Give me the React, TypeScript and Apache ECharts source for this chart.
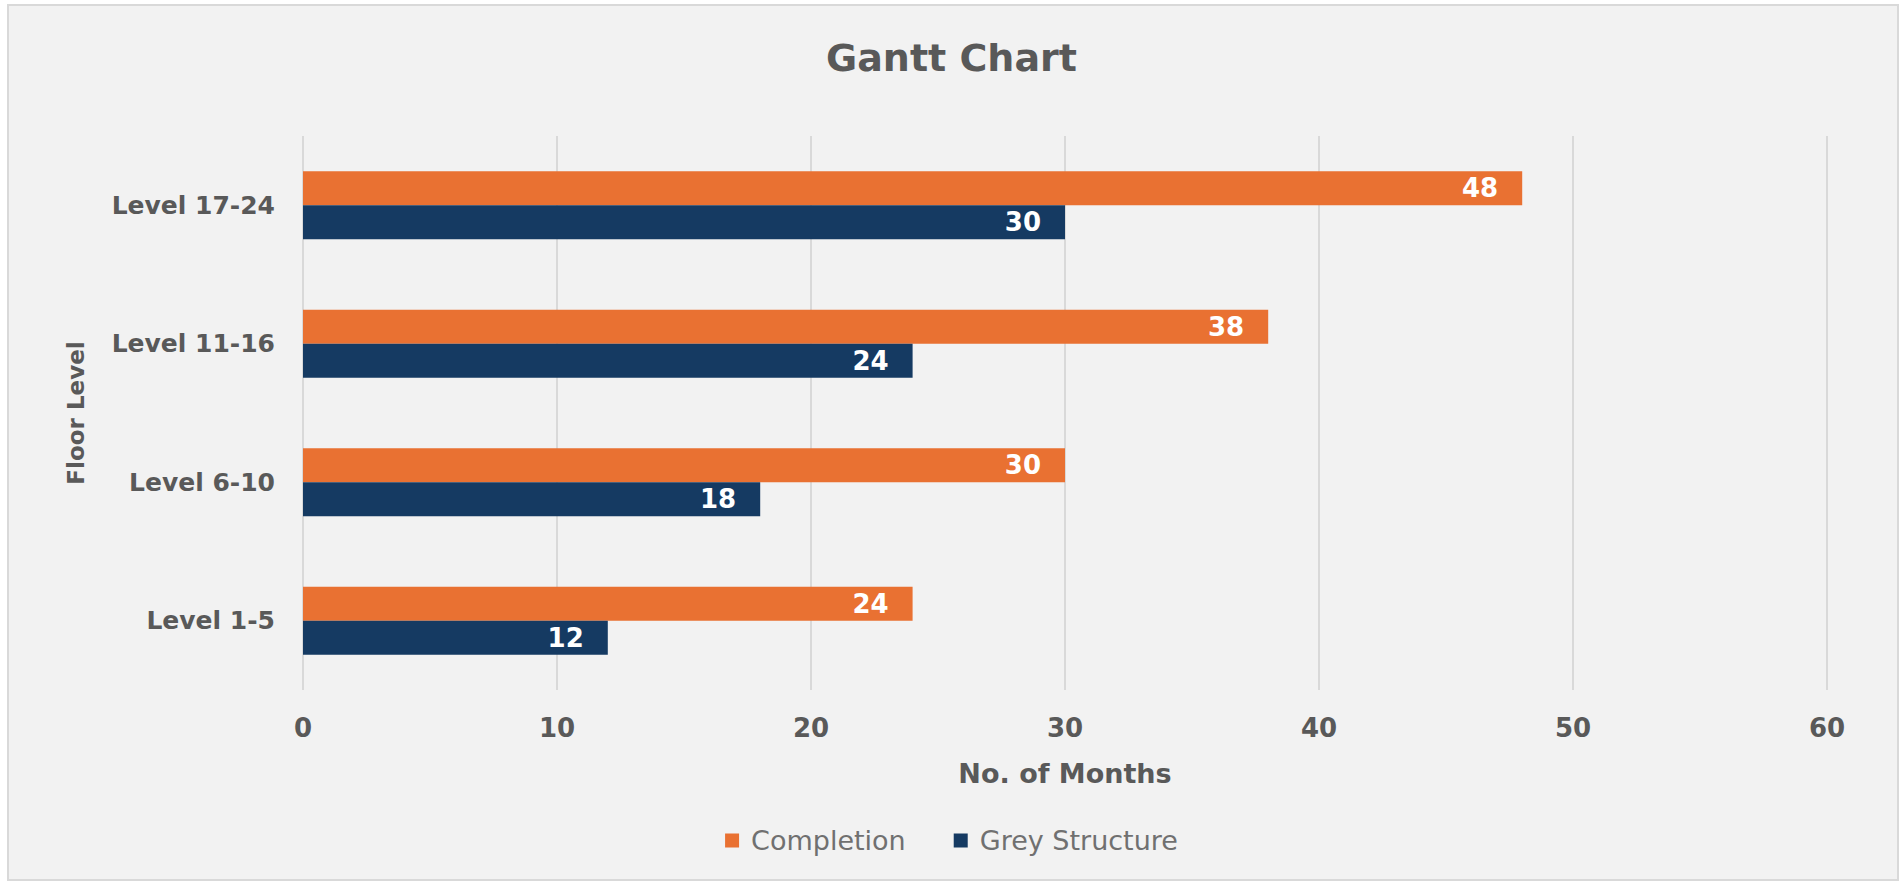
import React, { useEffect, useRef } from "react";
import * as echarts from "echarts";

const categories = ["Level 1-5", "Level 6-10", "Level 11-16", "Level 17-24"];
const completion = [24, 30, 38, 48];
const greyStructure = [12, 18, 24, 30];
const xTicks = { min: 0, max: 60, interval: 10 };

const FONT = "DejaVu Sans";

export default function App() {
  const ref = useRef<HTMLDivElement>(null);
  useEffect(() => {
    if (!ref.current) return;
    const chart = echarts.init(ref.current, null, { renderer: "svg" });
    const labelStyle = {
      show: true,
      position: "insideRight",
      distance: 24,
      color: "#ffffff",
      fontFamily: FONT,
      fontSize: 26,
      fontWeight: "bold",
    };
    chart.setOption({
      animation: false,
      backgroundColor: "#ffffff",
      textStyle: { fontFamily: FONT },
      graphic: [
        {
          type: "rect",
          z: -10,
          silent: true,
          shape: { x: 8, y: 5, width: 1890, height: 875 },
          style: { fill: "#f2f2f2", stroke: "#d9d9d9", lineWidth: 2 },
        },
      ],
      title: {
        text: "Gantt Chart",
        left: "center",
        top: 34,
        textStyle: { fontFamily: FONT, fontSize: 38, fontWeight: "bold", color: "#595959" },
      },
      legend: {
        bottom: 26,
        left: "center",
        icon: "rect",
        itemWidth: 14,
        itemHeight: 14,
        itemGap: 48,
        textStyle: { fontFamily: FONT, fontSize: 27, color: "#707070", padding: [0, 0, 0, 7] },
        data: ["Completion", "Grey Structure"],
      },
      grid: { left: 303, right: 76, top: 136, bottom: 195, containLabel: false },
      xAxis: {
        type: "value",
        min: xTicks.min,
        max: xTicks.max,
        interval: xTicks.interval,
        name: "No. of Months",
        nameLocation: "middle",
        nameGap: 70,
        nameTextStyle: { fontFamily: FONT, fontSize: 27, fontWeight: "bold", color: "#595959" },
        axisLine: { show: false },
        axisTick: { show: false },
        axisLabel: { fontFamily: FONT, fontSize: 26, fontWeight: "bold", color: "#595959", margin: 25 },
        splitLine: { show: true, lineStyle: { color: "#d9d9d9", width: 2 } },
      },
      yAxis: {
        type: "category",
        data: categories,
        name: "Floor Level",
        nameLocation: "middle",
        nameRotate: 90,
        nameGap: 216,
        nameTextStyle: { fontFamily: FONT, fontSize: 23, fontWeight: "bold", color: "#595959" },
        axisLine: { show: false },
        axisTick: { show: false },
        axisLabel: { fontFamily: FONT, fontSize: 25, fontWeight: "bold", color: "#595959", margin: 28 },
        splitLine: { show: false },
      },
      series: [
        {
          name: "Completion",
          type: "bar",
          data: completion,
          barGap: "0%",
          barCategoryGap: "51%",
          itemStyle: { color: "#E97132" },
          label: labelStyle,
        },
        {
          name: "Grey Structure",
          type: "bar",
          data: greyStructure,
          barGap: "0%",
          barCategoryGap: "51%",
          itemStyle: { color: "#153A62" },
          label: labelStyle,
        },
      ],
    });
    return () => chart.dispose();
  }, []);
  return (
    <div
      ref={ref}
      style={{ position: "fixed", left: 0, top: 0, width: 1903, height: 885 }}
    />
  );
}
